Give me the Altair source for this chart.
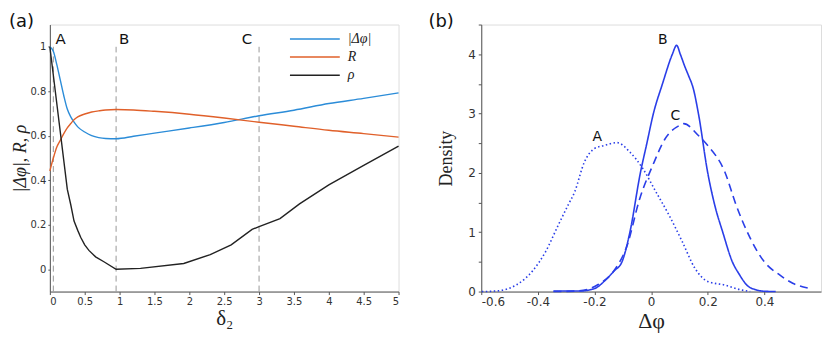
import altair as alt
import pandas as pd

# ---------------- panel (a) data ----------------
blue_x = [0, 0.05, 0.1, 0.15, 0.2, 0.25, 0.3, 0.35, 0.4, 0.5, 0.6, 0.7, 0.8, 0.95,
          1.2, 1.5, 2.0, 2.5, 3.0, 3.5, 4.0, 4.5, 5.0]
blue_y = [1.0, 0.98, 0.92, 0.85, 0.78, 0.72, 0.685, 0.66, 0.64, 0.617, 0.601, 0.592,
          0.588, 0.587, 0.598, 0.612, 0.635, 0.660, 0.690, 0.715, 0.745, 0.768, 0.793]
orange_x = [0, 0.05, 0.1, 0.15, 0.2, 0.25, 0.3, 0.35, 0.4, 0.5, 0.6, 0.7, 0.8, 0.95,
            1.2, 1.5, 2.0, 2.5, 3.0, 3.5, 4.0, 4.5, 5.0]
orange_y = [0.442, 0.50, 0.55, 0.58, 0.61, 0.636, 0.655, 0.673, 0.685, 0.698, 0.707,
            0.712, 0.716, 0.718, 0.716, 0.710, 0.697, 0.680, 0.661, 0.643, 0.625, 0.610, 0.594]
black_x = [0, 0.25, 0.3, 0.347, 0.4, 0.442, 0.5, 0.56, 0.656, 0.775, 0.95, 1.3, 1.92,
           2.3, 2.6, 2.9, 3.0, 3.3, 3.58, 4.0, 4.5, 5.0]
black_y = [1.0, 0.36, 0.29, 0.217, 0.175, 0.144, 0.11, 0.085, 0.056, 0.034, 0.0, 0.004,
           0.026, 0.066, 0.11, 0.179, 0.192, 0.228, 0.294, 0.379, 0.467, 0.554]
series_names = ["|Δφ|", "R", "ρ"]
series_colors = ["#2b8cd8", "#e0602a", "#222222"]

marker_x = [0.05, 0.95, 3.0]
marker_lo = [-0.1, -0.1, -0.1]
marker_hi = [1.0, 1.0, 1.0]
marker_labels = ["A", "B", "C"]
marker_label_x = [0.08, 0.99, 2.75]
marker_label_y = [1.035, 1.035, 1.035]

a_xticks = [0, 0.5, 1, 1.5, 2, 2.5, 3, 3.5, 4, 4.5, 5]
a_yticks = [0, 0.2, 0.4, 0.6, 0.8, 1]

# ---------------- panel (b) data ----------------
A_x = [-0.598, -0.546, -0.477, -0.42, -0.373, -0.328, -0.293, -0.27, -0.236, -0.2, -0.167,
       -0.12, -0.075, -0.029, 0.017, 0.063, 0.11, 0.155, 0.2, 0.26, 0.316, 0.35]
A_d = [0, 0.01, 0.11, 0.34, 0.67, 1.12, 1.46, 1.68, 2.18, 2.41, 2.46, 2.51, 2.35, 2.07,
       1.68, 1.29, 0.84, 0.39, 0.17, 0.11, 0.03, 0.0]
B_x = [-0.345, -0.25, -0.2, -0.16, -0.13, -0.103, -0.075, -0.038, -0.015, 0.008, 0.04,
       0.075, 0.09, 0.103, 0.12, 0.132, 0.149, 0.167, 0.2, 0.225, 0.253, 0.287, 0.31,
       0.34, 0.37, 0.4, 0.44]
B_d = [0.01, 0.01, 0.05, 0.2, 0.35, 0.5, 1.0, 2.0, 2.5, 3.0, 3.5, 4.0, 4.15, 4.0, 3.78,
       3.64, 3.42, 3.0, 2.0, 1.45, 1.0, 0.5, 0.3, 0.1, 0.03, 0.005, 0.0]
C_x = [-0.345, -0.26, -0.19, -0.13, -0.086, -0.04, 0.006, 0.05, 0.1, 0.115, 0.167, 0.2,
       0.26, 0.3, 0.35, 0.4, 0.454, 0.5, 0.557]
C_d = [0.0, 0.01, 0.11, 0.36, 0.76, 1.57, 2.13, 2.58, 2.8, 2.83, 2.63, 2.46, 2.02, 1.46,
       0.9, 0.5, 0.28, 0.14, 0.056]
dens_names = ["A", "B", "C"]
dens_label_x = [-0.19, 0.041, 0.086]
dens_label_y = [2.6, 4.24, 2.96]
b_xticks = [-0.6, -0.4, -0.2, 0, 0.2, 0.4]
b_yticks = [0, 0.5, 1, 1.5, 2, 2.5, 3, 3.5, 4, 4.5]

# ---------------- build tables ----------------
curves = pd.concat([
    pd.DataFrame({"x": blue_x, "y": blue_y, "s": series_names[0]}),
    pd.DataFrame({"x": orange_x, "y": orange_y, "s": series_names[1]}),
])
black = pd.DataFrame({"x": black_x, "y": black_y, "s": series_names[2]})
markers = pd.DataFrame({"x": marker_x, "lo": marker_lo, "hi": marker_hi})
marker_text = pd.DataFrame({"x": marker_label_x, "y": marker_label_y, "t": marker_labels})

dens = pd.concat([
    pd.DataFrame({"x": A_x, "d": A_d, "s": "A"}),
    pd.DataFrame({"x": B_x, "d": B_d, "s": "B"}),
    pd.DataFrame({"x": C_x, "d": C_d, "s": "C"}),
])
dens_text = pd.DataFrame({"x": dens_label_x, "y": dens_label_y, "t": dens_names})

SANS = "DejaVu Sans"
SERIF = "Liberation Serif"
AXC = "#555555"

xa_scale = alt.Scale(domain=[0, 5], nice=False, zero=False)
ya_scale = alt.Scale(domain=[-0.1, 1.1], nice=False, zero=False)

xa_axis = alt.Axis(values=a_xticks, format="~g", labelOverlap=False, title="δ₂",
                   titleFont=SERIF, titleFontSize=21, titleFontWeight="normal",
                   titleColor="#222", titlePadding=1, labelFont=SANS, labelFontSize=10,
                   labelColor="#333", labelPadding=2, tickSize=3, grid=False,
                   domainColor=AXC, tickColor=AXC)
ya_axis = alt.Axis(values=a_yticks, format="~g", labelOverlap=False, title="|Δφ|, R, ρ",
                   titleFont=SERIF, titleFontSize=18, titleFontStyle="italic",
                   titleFontWeight="normal", titleColor="#222", titlePadding=1,
                   labelFont=SANS, labelFontSize=10, labelColor="#333", labelPadding=2,
                   tickSize=2, grid=False, domainColor=AXC, tickColor=AXC)

color_enc = alt.Color("s:N", scale=alt.Scale(domain=series_names, range=series_colors),
                      legend=alt.Legend(title=None, orient="none", legendX=240, legendY=7,
                                        symbolType="stroke", symbolSize=2500,
                                        symbolStrokeWidth=1.5, labelFont=SERIF,
                                        labelFontStyle="italic", labelFontSize=14,
                                        labelColor="#222", labelOffset=7, clipHeight=15,
                                        rowPadding=3.2, padding=0))

vlines = alt.Chart(markers).mark_rule(color="#999999", strokeDash=[6, 4], strokeWidth=1).encode(
    x=alt.X("x:Q", scale=xa_scale, axis=xa_axis),
    y=alt.Y("lo:Q", scale=ya_scale, axis=ya_axis),
    y2="hi:Q",
)

lines_a = alt.Chart(curves).mark_line(strokeWidth=1.4, interpolate="monotone").encode(
    x=alt.X("x:Q", scale=xa_scale, axis=xa_axis),
    y=alt.Y("y:Q", scale=ya_scale, axis=ya_axis),
    color=color_enc,
    detail="s:N",
)
line_black = alt.Chart(black).mark_line(strokeWidth=1.4).encode(
    x=alt.X("x:Q", scale=xa_scale, axis=xa_axis),
    y=alt.Y("y:Q", scale=ya_scale, axis=ya_axis),
    color=color_enc,
)

text_a = alt.Chart(marker_text).mark_text(font=SANS, fontSize=15, align="left",
                                         baseline="middle", color="#111").encode(
    x=alt.X("x:Q", scale=xa_scale, axis=xa_axis),
    y=alt.Y("y:Q", scale=ya_scale, axis=ya_axis), text="t:N")

tag_a = alt.Chart(pd.DataFrame({"t": ["(a)"]})).mark_text(
    font=SANS, fontSize=18, align="left", baseline="top", color="#111").encode(
    x=alt.value(-41), y=alt.value(-12), text="t:N")

left = alt.layer(vlines, lines_a, line_black, text_a, tag_a).properties(width=350, height=268)

# ---------------- panel (b) ----------------
xb_scale = alt.Scale(domain=[-0.6, 0.6], nice=False, zero=False)
yb_scale = alt.Scale(domain=[0, 4.5], nice=False, zero=False)
xb_axis = alt.Axis(values=b_xticks, labelOverlap=False,
                   labelExpr="replace(format(datum.value, '~g'), '−', '-')",
                   title="Δφ", titleFont=SERIF, titleFontSize=22, titleFontWeight="normal",
                   titleColor="#222", titlePadding=3, labelFont=SANS, labelFontSize=12,
                   labelColor="#333", labelPadding=2, tickSize=3, grid=False,
                   domainColor=AXC, tickColor=AXC)
yb_axis = alt.Axis(values=b_yticks, labelOverlap=False,
                   labelExpr="datum.value % 1 == 0 ? format(datum.value, 'd') : ''",
                   title="Density", titleFont=SERIF, titleFontSize=18,
                   titleFontWeight="normal", titleColor="#222", titlePadding=12,
                   labelFont=SANS, labelFontSize=12, labelColor="#333", labelPadding=3,
                   tickSize=3, grid=False, domainColor=AXC, tickColor=AXC)

lines_b = alt.Chart(dens).mark_line(color="#2a3ee8", strokeWidth=1.6,
                                    interpolate="monotone").encode(
    x=alt.X("x:Q", scale=xb_scale, axis=xb_axis),
    y=alt.Y("d:Q", scale=yb_scale, axis=yb_axis),
    strokeDash=alt.StrokeDash("s:N", scale=alt.Scale(domain=dens_names,
                              range=[[1.5, 2.5], [1, 0], [8, 5]]), legend=None),
    detail="s:N",
)
text_b = alt.Chart(dens_text).mark_text(font=SANS, fontSize=14, align="center",
                                       baseline="middle", color="#111").encode(
    x=alt.X("x:Q", scale=xb_scale, axis=xb_axis),
    y=alt.Y("y:Q", scale=yb_scale, axis=yb_axis), text="t:N")
tag_b = alt.Chart(pd.DataFrame({"t": ["(b)"]})).mark_text(
    font=SANS, fontSize=18, align="left", baseline="top", color="#111").encode(
    x=alt.value(-53), y=alt.value(-12), text="t:N")

right = alt.layer(lines_b, text_b, tag_b).properties(width=341, height=268)

chart = alt.hconcat(left, right, spacing=25).properties(
    padding={"left": 0, "top": 3, "right": 0, "bottom": 0}).configure_view(
    stroke=None).configure(background="white")

chart.save("out.html", embed_options={"renderer": "svg", "actions": False})
